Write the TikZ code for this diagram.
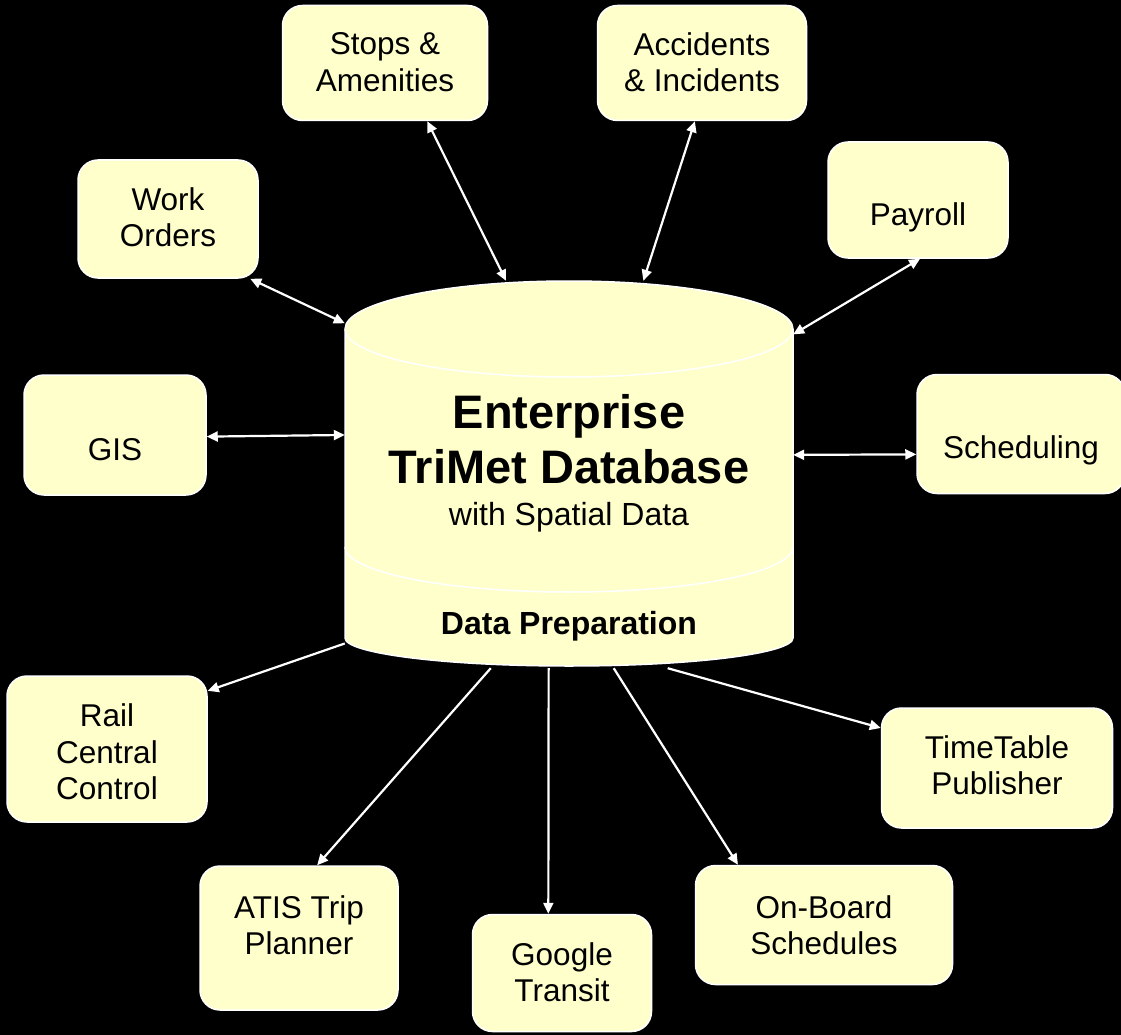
\documentclass[tikz,border=0pt]{standalone}
\usepackage{fontspec}
\setmainfont{Liberation Sans}
\usetikzlibrary{arrows.meta}

\definecolor{cream}{RGB}{255,255,204}

\tikzset{
	box/.style={draw=white, line width=1.5pt, fill=cream, rounded corners=20pt, inner sep=0pt},
	boxtext/.style={align=center, font=\fontsize{31.5}{36.5}\selectfont},
	link/.style={draw=white, line width=2.2pt},
}

% \system{name}{x}{y}{width}{height}{text y}{text}
\newcommand{\system}[7]{
	\node[box, minimum width=#4pt, minimum height=#5pt] (#1) at (#2,#3) {};
	\node[boxtext] (#1-txt) at (#2,#6) {#7};
}

\begin{document}
\begin{tikzpicture}[x=1pt, y=-1pt, >={Triangle[length=11pt,width=10pt]}]

	% page
	\fill[black] (0,0) rectangle (1121,1035);
	\useasboundingbox (0,0) rectangle (1121,1035);

	% database cylinder
	\filldraw[fill=cream, draw=white, line width=1.5pt]
		(345,329) -- (345,638) arc[start angle=180, end angle=0, x radius=224, y radius=28]
		-- (793,329) arc[start angle=0, end angle=-180, x radius=224, y radius=48] -- cycle;
	\draw[white, line width=1.5pt] (345,329) arc[start angle=180, end angle=0, x radius=224, y radius=48];
	\draw[white, line width=1.5pt] (345,547) arc[start angle=180, end angle=0, x radius=224, y radius=45];
	\node[minimum width=448pt, minimum height=387pt, inner sep=0pt] (db) at (569,474.5) {};

	% database text
	\node[anchor=base, font=\fontsize{47}{56}\selectfont\bfseries] (ent) at (569,428) {Enterprise};
	\node[anchor=base, font=\fontsize{47}{56}\selectfont\bfseries] (tri) at (569,483) {TriMet Database};
	\node[anchor=base, font=\fontsize{32}{38}\selectfont] (spatial) at (569,525) {with Spatial Data};
	\node[anchor=base, font=\fontsize{32}{38}\selectfont\bfseries] (prep) at (569,634) {Data Preparation};

	% systems
	\system{stops}{385}{63}{205}{115}{62}{Stops \&\\Amenities}
	\system{accidents}{702}{63}{209}{115}{62}{Accidents\\\& Incidents}
	\system{work}{168}{219}{180}{118}{217}{Work\\Orders}
	\system{payroll}{918}{200}{180}{116}{217}{Payroll}
	\system{gis}{115}{435}{182}{120}{450}{GIS}
	\system{scheduling}{1021}{434}{208}{119}{450}{Scheduling}
	\system{rail}{107}{749}{200}{146}{752}{Rail\\Central\\Control}
	\system{timetable}{997}{768}{231}{120}{765}{TimeTable\\Publisher}
	\system{atis}{299}{938}{198}{144}{925}{ATIS Trip\\Planner}
	\system{google}{562}{973}{179}{117}{972}{Google\\Transit}
	\system{onboard}{824}{925}{257}{119}{925}{On-Board\\Schedules}

	% two way links
	\foreach \n/\a/\b in {stops/-54/108, accidents/-97/69, work/-36/146, payroll/-88/32, gis/-1/170, scheduling/-169.6/5.4}
		\draw[link, <->] (\n.\a) -- (db.\b);

	% outputs
	\foreach \n/\a/\b in {rail/30/-143, atis/76/-112, google/103/-96, onboard/145/-77, timetable/161/-63}
		\draw[link, ->] (db.\b) -- (\n.\a);

\end{tikzpicture}
\end{document}
